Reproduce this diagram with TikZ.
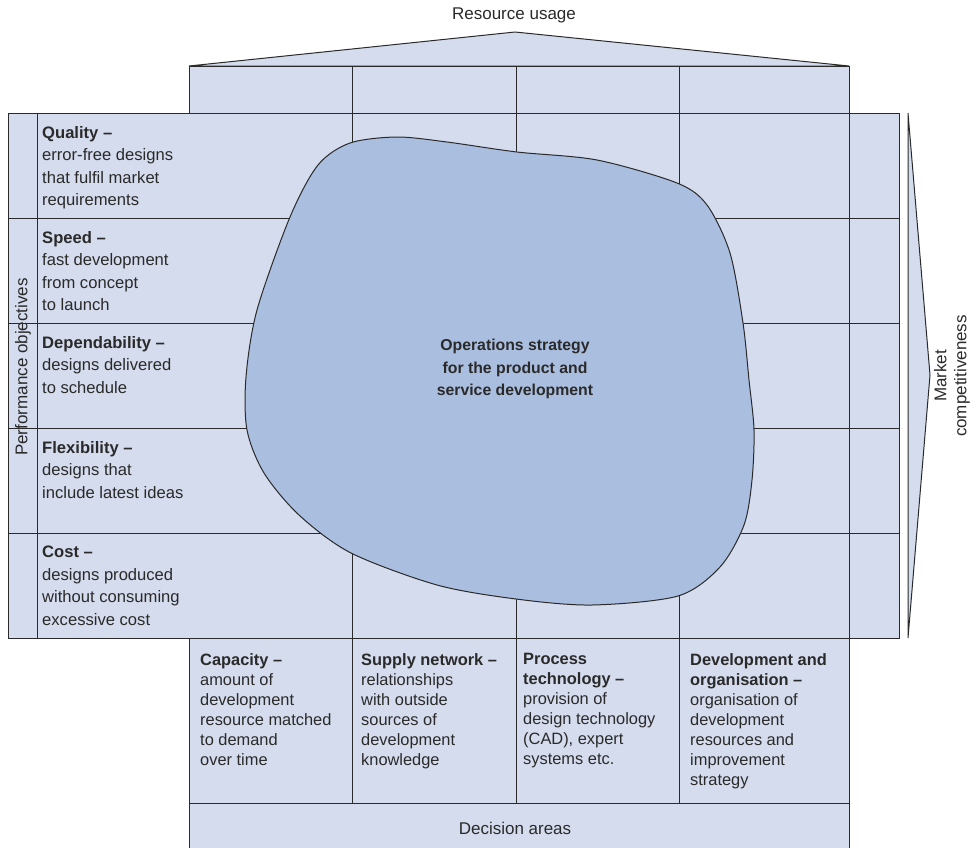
\documentclass[tikz,border=0pt]{standalone}
\usepackage{fontspec}
\setmainfont{Liberation Sans}
\definecolor{cellblue}{HTML}{D4DCEE}
\definecolor{blobblue}{HTML}{AABEDF}
\definecolor{inkgray}{HTML}{2A2A2A}
\tikzset{
  gridline/.style={draw=inkgray,line width=1pt},
  objtext/.style={anchor=north west,align=left,inner sep=0pt,text=inkgray,font=\fontsize{16.6}{22.5}\selectfont},
  areatext/.style={anchor=north west,align=left,inner sep=0pt,text=inkgray,font=\fontsize{16.4}{20}\selectfont},
  axistext/.style={align=center,inner sep=0pt,text=inkgray,font=\fontsize{17}{20}\selectfont}
}
\begin{document}
\begin{tikzpicture}[x=1pt,y=-1pt]
\useasboundingbox (0,0) rectangle (975,847);
% frame of the matrix
\filldraw[gridline,fill=cellblue] (189,66)--(515,32)--(849,66)--cycle;
\filldraw[gridline,fill=cellblue] (189,66) rectangle (849,113);
\filldraw[gridline,fill=cellblue] (8,113) rectangle (899,638);
\filldraw[gridline,fill=cellblue] (189,638) rectangle (849,803);
\filldraw[gridline,fill=cellblue] (189,803) rectangle (849,849);
\filldraw[gridline,fill=cellblue] (908,113)--(930,375)--(908,638)--cycle;
\draw[gridline] (37,113)--(37,638) (849,113)--(849,638);
\foreach \x in {352,516,679} \draw[gridline] (\x,66)--(\x,803);
\foreach \y in {218,323,428,533} \draw[gridline] (8,\y)--(899,\y);
% central blob
\filldraw[gridline,fill=blobblue] plot[smooth cycle] coordinates {
  (246,377) (257,310) (290,217) (318,165) (350,143) (397,137) (447,142)
  (517,152) (597,160) (677,183) (707,205) (730,253) (743,323) (749,380)
  (754,430) (752,480) (744,525) (720,567) (678,596) (592,605) (516,599)
  (437,585) (351,553) (299,515) (264,473) (247,430)};
\node[axistext,font=\fontsize{15.8}{22.5}\selectfont\bfseries] (strategy) at (515,369)
  {Operations strategy\\for the product and\\service development};
% axis labels
\node[axistext] (resource) at (514,15) {Resource usage};
\node[axistext] (decision) at (515,828) {Decision areas};
\node[axistext,rotate=90] (perfobj) at (23,367) {Performance objectives};
\node[axistext,rotate=90] (market) at (952,376) {Market\\competitiveness};
% performance objectives
\node[objtext] (quality) at (42,126) {\textbf{Quality –}\\error-free designs\\that fulfil market\\requirements};
\node[objtext] (speed) at (42,231) {\textbf{Speed –}\\fast development\\from concept\\to launch};
\node[objtext] (dependability) at (42,336) {\textbf{Dependability –}\\designs delivered\\to schedule};
\node[objtext] (flexibility) at (42,441) {\textbf{Flexibility –}\\designs that\\include latest ideas};
\node[objtext] (cost) at (42,546) {\textbf{Cost –}\\designs produced\\without consuming\\excessive cost};
% decision areas
\node[areatext] (capacity) at (200,653) {\textbf{Capacity –}\\amount of\\development\\resource matched\\to demand\\over time};
\node[areatext] (supply) at (361,653) {\textbf{Supply network –}\\relationships\\with outside\\sources of\\development\\knowledge};
\node[areatext] (process) at (523,653) {\textbf{Process}\\\textbf{technology –}\\provision of\\design technology\\(CAD), expert\\systems etc.};
\node[areatext] (development) at (690,653) {\textbf{Development and}\\\textbf{organisation –}\\organisation of\\development\\resources and\\improvement\\strategy};
\end{tikzpicture}
\end{document}
